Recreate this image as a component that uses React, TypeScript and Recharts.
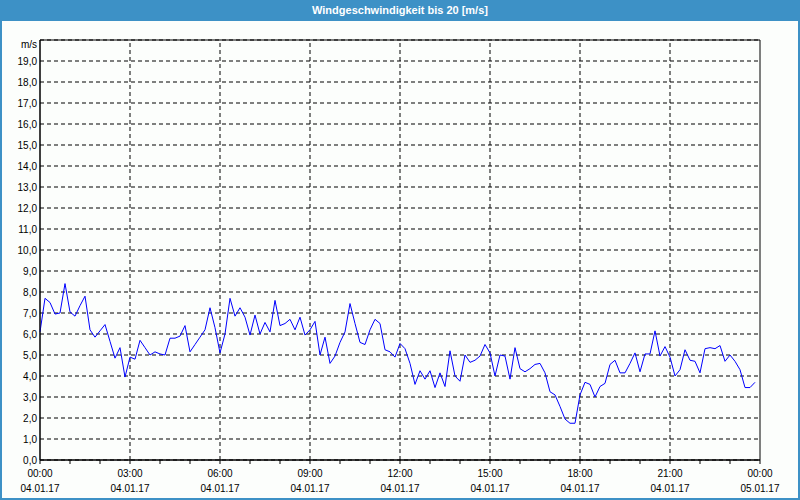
import { LineChart, Line, XAxis, YAxis, CartesianGrid, ReferenceLine, ReferenceArea } from 'recharts';

// wind speed in m/s, one reading every 10 minutes from 04.01.17 00:00
const speed = [
  6.1, 7.7, 7.5, 6.95, 7.0, 8.4, 7.05, 6.85, 7.35, 7.8, 6.2, 5.85, 6.15, 6.45, 5.65, 4.85, 5.35, 3.95, 4.9, 4.8, 5.7, 5.35, 5.0, 5.15,
  5.05, 5.0, 5.8, 5.8, 5.9, 6.4, 5.15, 5.5, 5.85, 6.2, 7.25, 6.3, 5.1, 6.0, 7.7, 6.85, 7.25, 6.8, 5.95, 6.9, 6.0, 6.55, 6.1, 7.6,
  6.4, 6.5, 6.7, 6.2, 6.8, 5.95, 6.2, 6.6, 5.0, 5.85, 4.6, 4.95, 5.6, 6.1, 7.45, 6.5, 5.6, 5.5, 6.2, 6.7, 6.5, 5.25, 5.15, 4.9,
  5.55, 5.3, 4.6, 3.6, 4.25, 3.85, 4.25, 3.45, 4.15, 3.5, 5.2, 4.0, 3.75, 5.0, 4.65, 4.75, 4.95, 5.5, 5.1, 4.0, 5.0, 4.95, 3.85, 5.35,
  4.35, 4.2, 4.35, 4.55, 4.6, 4.15, 3.25, 3.1, 2.55, 1.95, 1.75, 1.75, 3.1, 3.7, 3.6, 3.0, 3.5, 3.65, 4.55, 4.75, 4.15, 4.15, 4.6, 5.1,
  4.2, 5.05, 5.05, 6.15, 4.95, 5.4, 4.9, 4.0, 4.3, 5.25, 4.75, 4.7, 4.15, 5.3, 5.35, 5.3, 5.45, 4.7, 5.0, 4.7, 4.3, 3.45, 3.45, 3.7,
];

const hourTicks = [0, 60, 120, 180, 240, 300, 360, 420, 480, 540, 600, 660, 720, 780, 840, 900, 960, 1020, 1080, 1140, 1200, 1260, 1320, 1380, 1440];
const majorTicks = [0, 180, 360, 540, 720, 900, 1080, 1260, 1440];
const timeLabels = ['00:00', '03:00', '06:00', '09:00', '12:00', '15:00', '18:00', '21:00', '00:00'];
const dateLabels = ['04.01.17', '04.01.17', '04.01.17', '04.01.17', '04.01.17', '04.01.17', '04.01.17', '04.01.17', '05.01.17'];
const yTicks = [0, 1, 2, 3, 4, 5, 6, 7, 8, 9, 10, 11, 12, 13, 14, 15, 16, 17, 18, 19, 20];

const data = speed.map((v, i) => ({ t: i * 10, v }));

const FONT = '"Liberation Sans", Arial, sans-serif';
const BLUE = '#3d91c6';

const XTick = (props: any) => {
  const { x, y, payload } = props;
  const idx = majorTicks.indexOf(payload.value);
  if (idx < 0) return null;
  return (
    <g>
      <text x={x} y={y + 11} textAnchor="middle" fontSize={10} fontFamily={FONT} fill="#000">{timeLabels[idx]}</text>
      <text x={x} y={y + 26} textAnchor="middle" fontSize={10} fontFamily={FONT} fill="#000">{dateLabels[idx]}</text>
    </g>
  );
};

const YTick = (props: any) => {
  const { x, y, payload } = props;
  const label = payload.value === 20 ? 'm/s' : payload.value.toFixed(1).replace('.', ',');
  return (
    <text x={x} y={y + (payload.value === 20 ? 8 : 4)} textAnchor="end" fontSize={10} fontFamily={FONT} fill="#000">{label}</text>
  );
};

export default function App() {
  return (
    <div style={{ position: 'absolute', left: 0, top: 0, width: 800, height: 500, background: '#fcfefc', overflow: 'hidden' }}>
      <div style={{ position: 'absolute', left: 0, top: 0, width: 800, height: 21, background: BLUE, color: '#fff', fontFamily: FONT, fontWeight: 'bold', fontSize: 11, lineHeight: '21px', textAlign: 'center' }}>
        Windgeschwindigkeit bis 20 [m/s]
      </div>
      <div style={{ position: 'absolute', left: 0, top: 0, width: 800, height: 500, border: `2px solid ${BLUE}`, boxSizing: 'border-box', pointerEvents: 'none' }} />
      <div style={{ position: 'absolute', left: 0, top: 0 }}>
        <LineChart width={800} height={500} data={data} margin={{ top: 40, right: 40, bottom: 10, left: 5 }}>
          <CartesianGrid vertical={false} stroke="#000" strokeDasharray="4 3" />
          <XAxis
            dataKey="t"
            type="number"
            domain={[0, 1440]}
            ticks={hourTicks}
            interval={0}
            height={30}
            tickSize={4}
            tickMargin={2}
            stroke="#000"
            tickLine={{ stroke: '#000' }}
            axisLine={{ stroke: '#000' }}
            tick={<XTick />}
          />
          <YAxis
            type="number"
            domain={[0, 20]}
            ticks={yTicks}
            interval={0}
            width={35}
            tickSize={0}
            tickMargin={3}
            tickLine={false}
            axisLine={{ stroke: '#000' }}
            tick={<YTick />}
          />
          {majorTicks.slice(1, -1).map((t) => (
            <ReferenceLine key={t} x={t} stroke="#000" strokeDasharray="4 3" />
          ))}
          <ReferenceArea x1={0} x2={1440} y1={0} y2={20} fill="none" stroke="#000" strokeWidth={1} fillOpacity={0} />
          <Line type="linear" dataKey="v" stroke="#0000ff" strokeWidth={1} dot={false} isAnimationActive={false} />
        </LineChart>
      </div>
    </div>
  );
}
